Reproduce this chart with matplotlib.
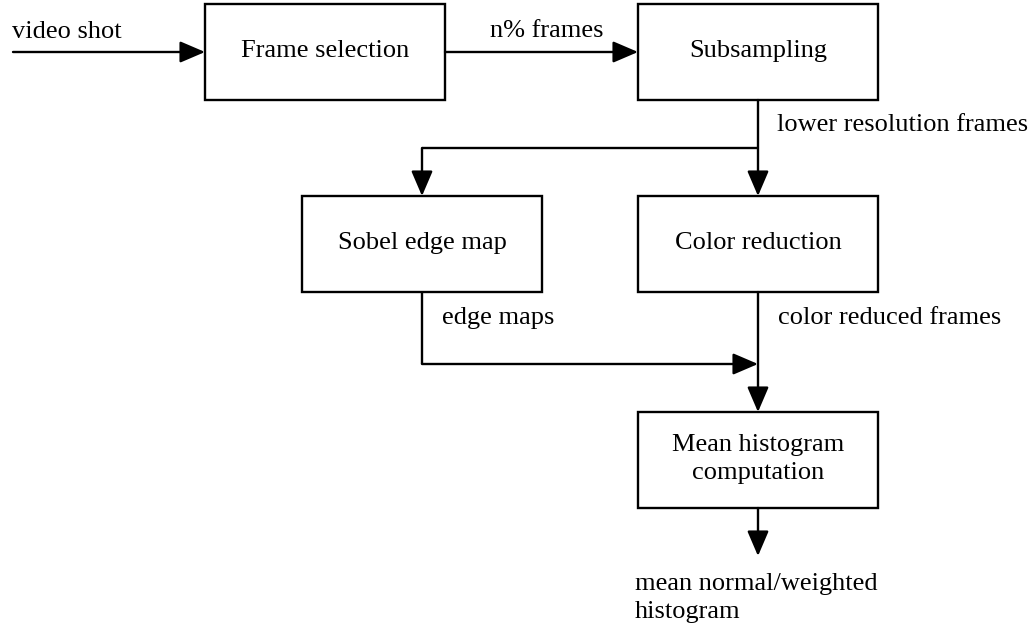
import matplotlib
matplotlib.use("Agg")
import matplotlib.pyplot as plt
from matplotlib.patches import Rectangle

# processing steps (box labels)
steps = ["Frame selection", "Subsampling", "Sobel edge map",
         "Color reduction", "Mean histogram\ncomputation"]
# edge labels
edge_labels = ["video shot", "n% frames", "lower resolution frames",
               "edge maps", "color reduced frames",
               "mean normal/weighted\nhistogram"]

# layout in pixels (x0, y0 top-left), all boxes same size
box_w, box_h = 240, 96
box_pos = {
    "Frame selection": (205, 4),
    "Subsampling": (638, 4),
    "Sobel edge map": (302, 196),
    "Color reduction": (638, 196),
    "Mean histogram\ncomputation": (638, 412),
}

plt.rcParams['font.family'] = ['Liberation Serif', 'DejaVu Serif']
fig = plt.figure(figsize=(10.35, 6.28), dpi=100)
ax = fig.add_axes([0, 0, 1, 1])
ax.set_xlim(0, 1035)
ax.set_ylim(628, 0)
ax.axis("off")

fs = 19
lw = 1.7

for name in steps:
    x0, y0 = box_pos[name]
    ax.add_patch(Rectangle((x0, y0), box_w, box_h, fill=False, lw=lw, ec="black"))
    ax.text(x0 + box_w / 2, y0 + box_h / 2 - 1, name, ha="center", va="center",
            fontsize=fs, linespacing=1.35)

def arrow(x1, y1, x2, y2):
    ax.annotate("", xy=(x2, y2), xytext=(x1, y1),
                arrowprops=dict(arrowstyle="-|>,head_length=0.7,head_width=0.3",
                                mutation_scale=22, lw=lw, color="black",
                                shrinkA=0, shrinkB=0))

def line(xs, ys):
    ax.plot(xs, ys, color="black", lw=lw, solid_capstyle="butt")

cx = 758  # centre column
# video shot -> frame selection
arrow(13, 52, 205, 52)
# frame selection -> subsampling
arrow(445, 52, 638, 52)
# subsampling -> colour reduction
arrow(cx, 100, cx, 196)
# branch to sobel
line([cx, 422], [148, 148])
arrow(422, 148, 422, 196)
# sobel -> merge point
line([422, 422], [292, 364])
arrow(422, 364, cx, 364)
# colour reduction -> mean histogram
arrow(cx, 292, cx, 412)
# output
arrow(cx, 508, cx, 556)

ax.text(12, 32, edge_labels[0], ha="left", va="center", fontsize=fs)
ax.text(547, 31, edge_labels[1], ha="center", va="center", fontsize=fs)
ax.text(777, 125, edge_labels[2], ha="left", va="center", fontsize=fs)
ax.text(442, 318, edge_labels[3], ha="left", va="center", fontsize=fs)
ax.text(778, 318, edge_labels[4], ha="left", va="center", fontsize=fs)
ax.text(635, 598, edge_labels[5], ha="left", va="center", fontsize=fs,
        linespacing=1.35)

fig.savefig("out.png", dpi=100, facecolor="white")
